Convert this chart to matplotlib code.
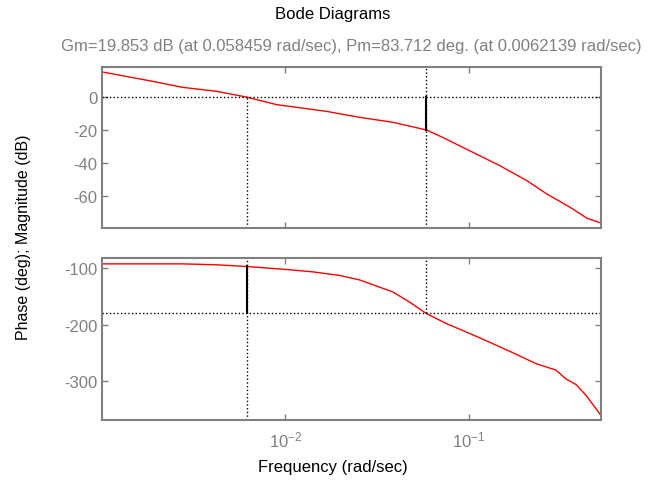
import numpy as np
import matplotlib.pyplot as plt

plt.rcParams['font.family'] = ['Liberation Sans', 'DejaVu Sans']
plt.rcParams['axes.unicode_minus'] = False

# magnitude curve (dB)
mag_freq = [0.00099, 0.00181, 0.00274, 0.00420, 0.00612, 0.00894, 0.01675,
            0.02535, 0.03846, 0.05888, 0.07211, 0.10520, 0.14757, 0.20749,
            0.26669, 0.35645, 0.44157, 0.52600]
mag_db = [15.3, 9.9, 5.9, 3.5, 0.0, -4.6, -8.7, -12.3, -15.3, -20.0, -24.5,
          -33.5, -41.6, -50.7, -58.8, -66.8, -73.5, -76.4]

# phase curve (deg)
ph_freq = [0.00099, 0.00274, 0.00420, 0.00612, 0.00964, 0.01409, 0.01985,
           0.02535, 0.03846, 0.04750, 0.05846, 0.07500, 0.11400, 0.17400,
           0.23200, 0.29900, 0.33800, 0.38400, 0.43700, 0.52600]
ph_deg = [-92.4, -92.4, -94.0, -97.0, -101.8, -106.5, -113.0, -120.8, -142.0,
          -160.0, -180.0, -197.7, -223.0, -249.8, -269.0, -280.6, -296.0,
          -306.0, -325.6, -361.0]

gm_db = 19.853
gm_freq = 0.058459
pm_deg = 83.712
pm_freq = 0.0062139

xlim = (0.001, 0.526)
gray = '#808080'

fig = plt.figure(figsize=(6.62, 4.85), dpi=100)
ax1 = fig.add_axes([102 / 662, 1 - 229 / 485, 499 / 662, 161 / 485])
ax2 = fig.add_axes([102 / 662, 1 - 421 / 485, 499 / 662, 162 / 485])

for ax in (ax1, ax2):
    ax.set_xscale('log')
    ax.set_xlim(*xlim)
    ax.set_xticks([1e-2, 1e-1])
    ax.minorticks_off()
    ax.tick_params(axis='both', direction='in', top=True, right=True,
                   colors=gray, labelsize=12, length=4, width=1)
    for sp in ax.spines.values():
        sp.set_color(gray)
        sp.set_linewidth(1.5)

# magnitude panel
ax1.set_ylim(-79.4, 18.2)
ax1.set_yticks([0, -20, -40, -60])
ax1.set_xticklabels([])
ax1.plot(mag_freq, mag_db, color='red', lw=1)
ax1.axhline(0, color='black', ls=':', lw=1)
ax1.plot([pm_freq, pm_freq], [-79.4, 0], color='black', ls=':', lw=1)
ax1.plot([gm_freq, gm_freq], [-79.4, 18.2], color='black', ls=':', lw=1)
ax1.plot([gm_freq, gm_freq], [0, -gm_db], color='black', lw=1.5)

# phase panel
ax2.set_ylim(-369, -82)
ax2.set_yticks([-100, -200, -300])
ax2.tick_params(axis='x', pad=7)
ax2.plot(ph_freq, ph_deg, color='red', lw=1)
ax2.axhline(-180, color='black', ls=':', lw=1)
ax2.plot([pm_freq, pm_freq], [-369, -82], color='black', ls=':', lw=1)
ax2.plot([pm_freq, pm_freq], [-180, -180 + pm_deg], color='black', lw=1.5)
ax2.plot([gm_freq, gm_freq], [-180, -82], color='black', ls=':', lw=1)
ax2.set_xlabel('Frequency (rad/sec)', fontsize=12, va='center')
ax2.xaxis.set_label_coords((333 - 102) / 499, -(468 - 421) / 162)

fig.text(333 / 662, 1 - 15 / 485, 'Bode Diagrams',
         ha='center', va='center', fontsize=12)
fig.text(351 / 662, 1 - 47 / 485,
         'Gm=%.3f dB (at %.6f rad/sec), Pm=%.3f deg. (at %.7f rad/sec)'
         % (gm_db, gm_freq, pm_deg, pm_freq),
         ha='center', va='center', fontsize=12, color=gray)
fig.text(24 / 662, 1 - 237 / 485, 'Phase (deg); Magnitude (dB)',
         rotation=90, ha='center', va='center', fontsize=11.5)

fig.savefig('out.png', dpi=100)
